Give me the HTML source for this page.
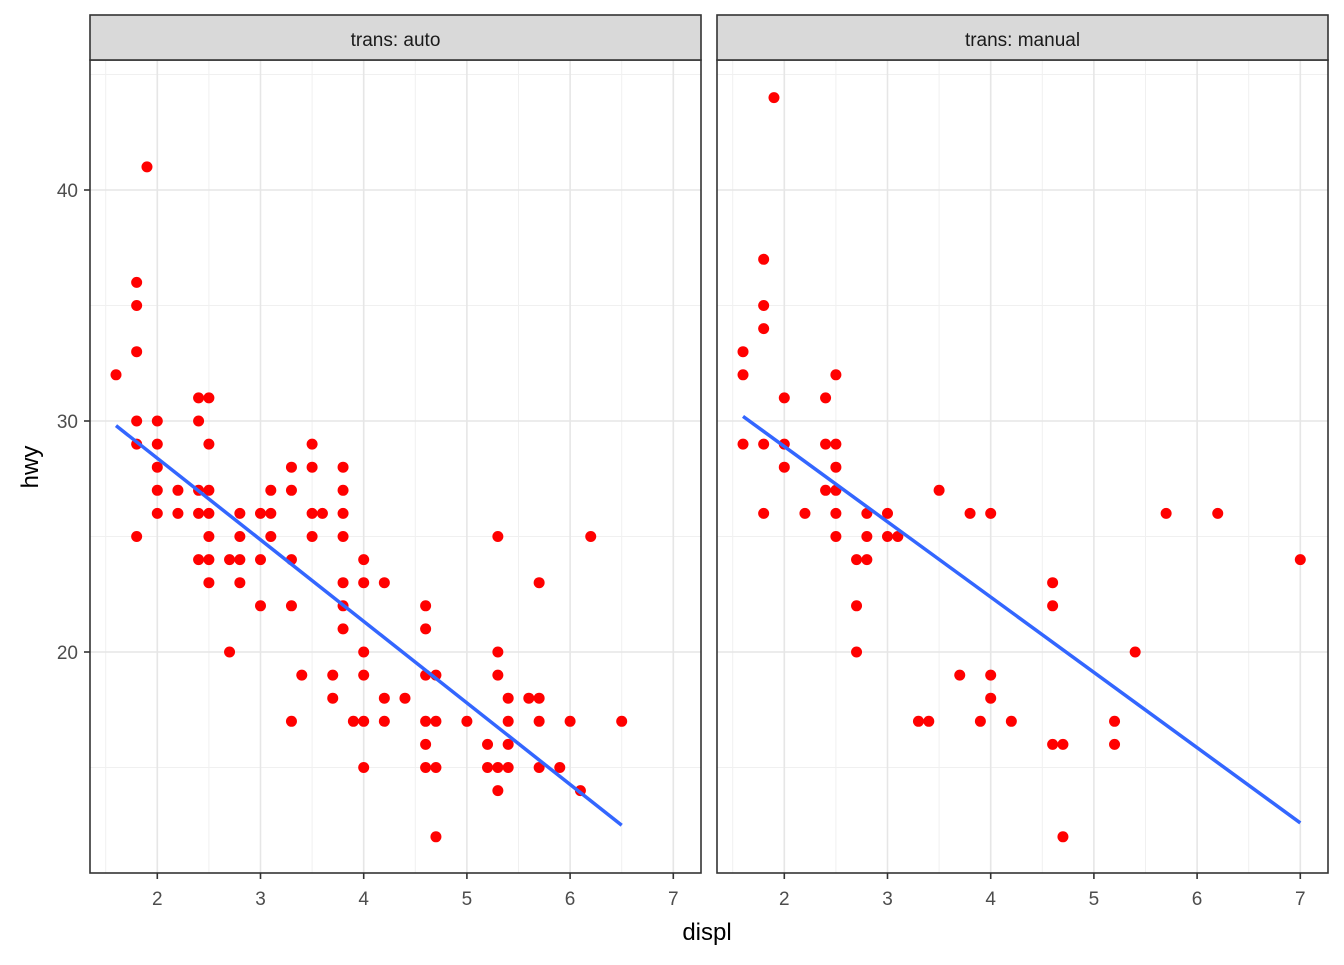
<!DOCTYPE html>
<html><head><meta charset="utf-8"><style>
html,body{margin:0;padding:0;background:#fff;}
svg text{font-family:"Liberation Sans",sans-serif;}
</style></head><body>
<svg id="s" width="1344" height="960" xmlns="http://www.w3.org/2000/svg">
<rect width="1344" height="960" fill="#fff"/>
<g id="g"></g>
<text x="707" y="940" font-size="24" text-anchor="middle" fill="#000">displ</text>
<text x="0" y="0" font-size="24" text-anchor="middle" fill="#000" transform="translate(38,467) rotate(-90)">hwy</text>
</svg>
<script>
var g=document.getElementById('g');var h='';
function Y(v){return 652-(v-20)*23.1;}
var L={'1.6':[32],'1.8':[36,35,33,30,29,25],'1.9':[41],'2.0':[30,29,28,27,26],'2.2':[27,26],'2.4':[31,30,27,26,24],'2.5':[31,29,27,26,25,24,23],'2.7':[24,20],'2.8':[26,25,24,23],'3.0':[26,24,22],'3.1':[27,26,25],'3.3':[28,27,24,22,17],'3.4':[19],'3.5':[29,28,26,25],'3.6':[26],'3.7':[19,18],'3.8':[28,27,26,25,23,22,21],'3.9':[17],'4.0':[24,23,20,19,17,15],'4.2':[23,18,17],'4.4':[18],'4.6':[22,21,19,17,16,15],'4.7':[19,17,15,12],'5.0':[17],'5.2':[16,15],'5.3':[25,20,19,15,14],'5.4':[18,17,16,15],'5.6':[18],'5.7':[23,18,17,15],'5.9':[15],'6.0':[17],'6.1':[14],'6.2':[25],'6.5':[17]};
var R={'1.6':[33,32,29],'1.8':[37,35,34,29,26],'1.9':[44],'2.0':[31,29,28],'2.2':[26],'2.4':[31,29,27],'2.5':[32,29,28,27,26,25],'2.7':[24,22,20],'2.8':[26,25,24],'3.0':[26,25],'3.1':[25],'3.3':[17],'3.4':[17],'3.5':[27],'3.7':[19],'3.8':[26],'3.9':[17],'4.0':[26,19,18],'4.2':[17],'4.6':[23,22,16],'4.7':[16,12],'5.2':[17,16],'5.4':[20],'5.7':[26],'6.2':[26],'7.0':[24]};
function panel(x0,label,data,line){
 var X=function(v){return x0+67.3+(v-2)*103.2;};
 h+='<rect x="'+x0+'" y="60" width="611" height="813" fill="#fff"/>';
 [15,25,35,45].forEach(function(v){h+='<line x1="'+x0+'" x2="'+(x0+611)+'" y1="'+Y(v)+'" y2="'+Y(v)+'" stroke="#f0f0f0" stroke-width="1"/>';});
 [1.5,2.5,3.5,4.5,5.5,6.5].forEach(function(v){h+='<line y1="60" y2="873" x1="'+X(v)+'" x2="'+X(v)+'" stroke="#f0f0f0" stroke-width="1"/>';});
 [20,30,40].forEach(function(v){h+='<line x1="'+x0+'" x2="'+(x0+611)+'" y1="'+Y(v)+'" y2="'+Y(v)+'" stroke="#e6e6e6" stroke-width="1.6"/>';});
 [2,3,4,5,6,7].forEach(function(v){h+='<line y1="60" y2="873" x1="'+X(v)+'" x2="'+X(v)+'" stroke="#e6e6e6" stroke-width="1.6"/>';
  h+='<line y1="873" y2="879" x1="'+X(v)+'" x2="'+X(v)+'" stroke="#333" stroke-width="1.6"/>';
  h+='<text x="'+X(v)+'" y="905" font-size="19" fill="#4d4d4d" text-anchor="middle">'+v+'</text>';});
 for(var k in data){data[k].forEach(function(v){h+='<circle cx="'+X(+k)+'" cy="'+Y(v)+'" r="5.5" fill="#ff0000"/>';});}
 h+='<line x1="'+X(line[0])+'" y1="'+Y(line[1])+'" x2="'+X(line[2])+'" y2="'+Y(line[3])+'" stroke="#3366ff" stroke-width="3.5"/>';
 h+='<rect x="'+x0+'" y="60" width="611" height="813" fill="none" stroke="#333" stroke-width="1.6"/>';
 h+='<rect x="'+x0+'" y="15" width="611" height="45" fill="#d9d9d9" stroke="#333" stroke-width="1.6"/>';
 h+='<text x="'+(x0+305.5)+'" y="46" font-size="19" fill="#1a1a1a" text-anchor="middle">'+label+'</text>';
}
panel(90,'trans: auto',L,[1.6,29.8,6.5,12.5]);
panel(717,'trans: manual',R,[1.6,30.2,7.0,12.6]);
[20,30,40].forEach(function(v){h+='<line x1="84" x2="90" y1="'+Y(v)+'" y2="'+Y(v)+'" stroke="#333" stroke-width="1.6"/>';
 h+='<text x="78" y="'+(Y(v)+7)+'" font-size="19" fill="#4d4d4d" text-anchor="end">'+v+'</text>';});
g.innerHTML=h;
</script>
</body></html>
